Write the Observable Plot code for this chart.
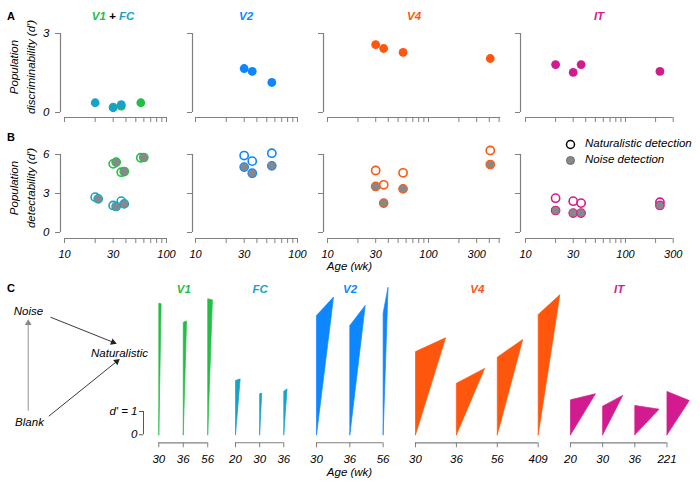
<!DOCTYPE html>
<html><head><meta charset="utf-8">
<script src="https://cdn.jsdelivr.net/npm/d3@7"></script>
<script src="https://cdn.jsdelivr.net/npm/@observablehq/plot@0.6"></script>
<style>
body{margin:0;background:#fff;}
#fig{position:relative;width:700px;height:485px;overflow:hidden;background:#fff;font-family:"Liberation Sans",Arial,Helvetica,sans-serif;color:#000;}
.abs{position:absolute;white-space:nowrap;line-height:1;}
.it{font-style:italic;font-size:11px;}
.letter{font-weight:bold;font-size:11px;}
.title{font-weight:bold;font-style:italic;font-size:11.5px;}
svg{overflow:visible;}
</style></head><body><div id="fig"></div>
<script>
// ---------------- DATA ----------------
const areas = ["V1", "FC", "V2", "V4", "IT"];
const areaColors = ["#22bf45", "#16a3c8", "#0d87ff", "#ff560d", "#d21b8e"];

const agesV1 = [30, 36, 56];
const agesFC = [20, 30, 36];
const agesV2 = [30, 36, 56];
const agesV4 = [30, 36, 56, 409];
const agesIT = [20, 30, 36, 221];

// A: population discriminability (d')
const discV1 = [0.20, 0.24, 0.37];
const discFC = [0.37, 0.18, 0.30];
const discV2 = [1.67, 1.56, 1.14];
const discV4 = [2.58, 2.43, 2.28, 2.05];
const discIT = [1.82, 1.52, 1.82, 1.56];

// B: population detectability (d')
const natV1 = [5.28, 4.64, 5.75];
const noiseV1 = [5.41, 4.69, 5.77];
const natFC = [2.72, 2.08, 2.41];
const noiseFC = [2.59, 2.00, 2.20];
const natV2 = [5.92, 5.49, 6.10];
const noiseV2 = [5.03, 4.56, 5.13];
const natV4 = [4.77, 3.67, 4.59, 6.31];
const noiseV4 = [3.54, 2.26, 3.36, 5.23];
const natIT = [2.64, 2.41, 2.26, 2.33];
const noiseIT = [1.69, 1.49, 1.49, 2.08];

// C: triangle glyphs (Blank at 0, Noise straight above, Naturalistic apex)
const cNoiseV1 = [5.65, 4.83, 5.84];
const cApexYV1 = [5.62, 4.88, 5.79];
const cApexXV1 = [0.10, 0.14, 0.20];
const cNoiseFC = [2.33, 1.76, 1.87];
const cApexYFC = [2.40, 1.79, 1.97];
const cApexXFC = [0.20, 0.09, 0.14];
const cNoiseV2 = [5.12, 4.69, 5.22];
const cApexYV2 = [5.91, 5.55, 6.33];
const cApexXV2 = [0.73, 0.66, 0.21];
const cNoiseV4 = [3.57, 2.21, 3.33, 5.16];
const cApexYV4 = [4.16, 2.85, 4.09, 6.01];
const cApexXV4 = [1.29, 1.21, 1.09, 0.93];
const cNoiseIT = [1.50, 1.23, 1.26, 1.86];
const cApexYIT = [1.76, 1.69, 1.10, 1.47];
const cApexXIT = [1.07, 0.86, 1.04, 0.96];

const xTickLabels = [10, 30, 100, 300];
const yTicksA = [0, 3];
const yTicksB = [0, 3, 6];
const scaleBarTicks = [0, 1];

// ---------------- BUILD TABLES ----------------
const raw = {
  V1: [agesV1, discV1, natV1, noiseV1, cNoiseV1, cApexYV1, cApexXV1],
  FC: [agesFC, discFC, natFC, noiseFC, cNoiseFC, cApexYFC, cApexXFC],
  V2: [agesV2, discV2, natV2, noiseV2, cNoiseV2, cApexYV2, cApexXV2],
  V4: [agesV4, discV4, natV4, noiseV4, cNoiseV4, cApexYV4, cApexXV4],
  IT: [agesIT, discIT, natIT, noiseIT, cNoiseIT, cApexYIT, cApexXIT]
};
const data = {};
areas.forEach((a, k) => {
  const [ages, disc, nat, noise, cn, cy, cx] = raw[a];
  data[a] = {
    color: areaColors[k], ages,
    rows: ages.map((age, i) => ({age, disc: disc[i], nat: nat[i], noise: noise[i], cNoise: cn[i], cApexY: cy[i], cApexX: cx[i]}))
  };
});

// ---------------- HELPERS ----------------
const FONT = '"Liberation Sans", Arial, Helvetica, sans-serif';
const GREY = "#808080";
const fig = document.getElementById("fig");
function put(el, left, top) {
  el.style.position = "absolute";
  el.style.left = left + "px";
  el.style.top = top + "px";
  fig.appendChild(el);
}
function txt(html, x, y, cls, anchor = "middle", extra = "") {
  const d = document.createElement("div");
  d.className = "abs " + cls;
  d.innerHTML = html;
  const tx = anchor === "middle" ? "-50%" : anchor === "end" ? "-100%" : "0";
  d.style.cssText += `left:${x}px;top:${y}px;transform:translate(${tx},-50%);` + extra;
  fig.appendChild(d);
  return d;
}
const plotStyle = {fontFamily: FONT, fontSize: "11px", background: "none", overflow: "visible"};

// ---------------- PANELS A & B ----------------
const colsAB = [
  {areas: ["V1", "FC"], frameLeft: 60, inset: 4, decade: 102, xMax: 100, shiftNoise: 3},
  {areas: ["V2"], frameLeft: 192, inset: 3, decade: 102, xMax: 100, shiftNoise: 0},
  {areas: ["V4"], frameLeft: 323, inset: 4, decade: 101, xMax: 520, shiftNoise: 0},
  {areas: ["IT"], frameLeft: 520, inset: 5, decade: 100, xMax: 300, shiftNoise: 0}
];

function scatter(col, ci, row) {
  const A = row === "A";
  const ml = 25, mr = 16;
  const rangeW = col.decade * Math.log10(col.xMax / 10);
  const width = ml + col.inset + rangeW + mr;
  const top = A ? 20 : 140;
  const frameBottom = A ? 117 : 238;
  const yTopPx = A ? 33 : 154;
  const mb = A ? 8 : 26;
  const height = frameBottom - top + mb;
  const insetB = A ? 5 : 6;
  const yMax = A ? 3 : 6;
  const xt = d3.range(10, 100, 10).concat(d3.range(100, col.xMax + 1, 100));
  const marks = [
    Plot.ruleX([{x: 10, y1: 0, y2: yMax}], {x: "x", y1: "y1", y2: "y2", dx: -col.inset, stroke: GREY, strokeWidth: 1.2}),
    Plot.ruleY([{y: 0, x1: 10, x2: col.xMax}], {y: "y", x1: "x1", x2: "x2", dy: insetB, stroke: GREY, strokeWidth: 1.2}),
    Plot.axisY({ticks: A ? yTicksA : yTicksB, tickFormat: d => String(d), tickSize: 5, tickPadding: 6, stroke: GREY,
      fill: ci === 0 ? "black" : "none", fontStyle: "italic", fontSize: 11.5, label: null}),
    Plot.axisX({ticks: xt, tickSize: 5, tickPadding: 6.5, stroke: GREY, fill: A ? "none" : "black",
      tickFormat: d => xTickLabels.includes(d) ? String(d) : "", fontStyle: "italic", fontSize: 11, label: null})
  ];
  for (const a of col.areas) {
    const d = data[a];
    if (A) {
      marks.push(Plot.dot(d.rows, {x: "age", y: "disc", r: 4.4, fill: d.color}));
    } else {
      marks.push(Plot.dot(d.rows, {x: "age", y: "nat", r: 4.1, fill: "white", stroke: d.color, strokeWidth: 1.6}));
      marks.push(Plot.dot(d.rows, {x: "age", y: "noise", r: 4.3, fill: "#888888", stroke: d.color, strokeWidth: 1.1, dx: col.shiftNoise}));
    }
  }
  const svg = Plot.plot({
    width, height,
    marginLeft: ml, marginRight: mr, marginTop: yTopPx - top, marginBottom: mb,
    style: plotStyle,
    x: {type: "log", domain: [10, col.xMax], insetLeft: col.inset, insetRight: 0},
    y: {domain: [0, yMax], insetBottom: insetB, insetTop: 0},
    marks
  });
  put(svg, col.frameLeft - ml, top);
}
colsAB.forEach((c, i) => { scatter(c, i, "A"); scatter(c, i, "B"); });

// ---------------- PANEL C ----------------
const pxPerD = 23.3;
const groupsC = [
  {area: "V1", start: 158.3, slot: 1.05, bar: true},
  {area: "FC", start: 235, slot: 1.036},
  {area: "V2", start: 315.7, slot: 1.43},
  {area: "V4", start: 415, slot: 1.755},
  {area: "IT", start: 570, slot: 1.38}
];
function glyphs(g) {
  const d = data[g.area];
  const n = d.ages.length;
  const xMaxD = (n - 1) * g.slot;
  const inset = g.bar ? 15.3 : 0;
  const ml = g.bar ? 50 : 8, mr = 34;
  const width = ml + inset + xMaxD * pxPerD + mr;
  const top = 280, yMaxD = 6.5, baseline = 434.3, insetB = 8, mb = 26;
  const mt = baseline - yMaxD * pxPerD - top;
  const height = baseline + insetB - top + mb;
  const tri = d.rows.flatMap((r, i) => {
    const x0 = i * g.slot;
    return [{id: i, x: x0, y: 0}, {id: i, x: x0, y: r.cNoise}, {id: i, x: x0 + r.cApexX, y: r.cApexY}, {id: i, x: x0, y: 0}];
  });
  const marks = [
    Plot.ruleY([{y: 0, x1: 0, x2: xMaxD}], {y: "y", x1: "x1", x2: "x2", dy: insetB, stroke: GREY, strokeWidth: 1.2}),
    Plot.axisX({ticks: d.ages.map((a, i) => i * g.slot), tickFormat: v => String(d.ages[Math.round(v / g.slot)]),
      tickSize: 5, tickPadding: 7.5, stroke: GREY, fill: "black", fontStyle: "italic", fontSize: 11.5, label: null}),
    Plot.line(tri, {x: "x", y: "y", z: "id", fill: d.color, stroke: d.color, strokeWidth: 0.7, strokeLinejoin: "miter", curve: "linear"})
  ];
  if (g.bar) {
    marks.push(Plot.ruleX([{x: 0, y1: 0, y2: 1}], {x: "x", y1: "y1", y2: "y2", dx: -inset, stroke: "#555", strokeWidth: 1}));
    marks.push(Plot.axisY({ticks: scaleBarTicks, tickFormat: v => v === 1 ? "d' = 1" : "0", tickSize: 4, tickPadding: 2,
      stroke: "#555", fill: "black", fontStyle: "italic", fontSize: 11.5, label: null}));
  }
  const svg = Plot.plot({
    width, height,
    marginLeft: ml, marginRight: mr, marginTop: mt, marginBottom: mb,
    style: plotStyle,
    x: {domain: [0, xMaxD], insetLeft: inset, insetRight: 0},
    y: g.bar ? {domain: [0, yMaxD], insetBottom: insetB} : {domain: [0, yMaxD], insetBottom: insetB, axis: null},
    marks
  });
  put(svg, g.start - inset - ml, top);
  const cx = g.start + xMaxD * pxPerD / 2;
  txt(`<span style="color:${d.color}">${g.area}</span>`, cx + 1, 290, "title");
}
groupsC.forEach(glyphs);

// schematic (Blank -> Noise -> Naturalistic)
const schemNodes = [
  {name: "Noise", x: 28, y: 21},
  {name: "Blank", x: 29, y: 132},
  {name: "Naturalistic", x: 119, y: 63}
];
const schemLinks = [
  {x1: 27.7, y1: 120, x2: 27.7, y2: 30, c: "#888888"},
  {x1: 50, y1: 26.7, x2: 115, y2: 52.7, c: "#222222"},
  {x1: 48.3, y1: 125.7, x2: 118.3, y2: 69.3, c: "#222222"}
];
const heads = schemLinks.map(l => {
  const dx = l.x2 - l.x1, dy = l.y2 - l.y1, len = Math.hypot(dx, dy);
  return {x: l.x2 - 2.6 * dx / len, y: l.y2 - 2.6 * dy / len, rot: Math.atan2(dx, -dy) * 180 / Math.PI, c: l.c};
});
const schem = Plot.plot({
  width: 160, height: 150, margin: 0, style: plotStyle,
  x: {type: "identity", axis: null}, y: {type: "identity", axis: null},
  color: {type: "identity"},
  marks: [
    Plot.link(schemLinks, {x1: "x1", y1: "y1", x2: "x2", y2: "y2", stroke: "c", strokeWidth: 0.9}),
    Plot.dot(heads, {x: "x", y: "y", rotate: "rot", symbol: "triangle2", r: 3.2, fill: "c", stroke: "none"}),
    Plot.text(schemNodes, {x: "x", y: "y", text: "name", fontStyle: "italic", fontSize: 11.5, fill: "black"})
  ]
});
put(schem, 0, 290);

// ---------------- TEXT ----------------
txt("A", 7, 16, "letter", "start");
txt("B", 7, 137, "letter", "start");
txt("C", 7, 288, "letter", "start");

txt(`<span style="color:${data.V1.color}">V1</span> + <span style="color:${data.FC.color}">FC</span>`, 113, 17, "title");
txt(`<span style="color:${data.V2.color}">V2</span>`, 246, 17, "title");
txt(`<span style="color:${data.V4.color}">V4</span>`, 414, 17, "title");
txt(`<span style="color:${data.IT.color}">IT</span>`, 599, 17, "title");

function ylab(lines, cx, cy) {
  const d = document.createElement("div");
  d.className = "abs it";
  d.innerHTML = lines.join("<br>");
  d.style.cssText += `left:${cx}px;top:${cy}px;text-align:center;line-height:17px;font-size:11.5px;transform:translate(-50%,-50%) rotate(-90deg);`;
  fig.appendChild(d);
}
ylab(["Population", "discriminability (d')"], 23, 67);
ylab(["Population", "detectability (d')"], 23, 188);

txt("Age (wk)", 349.5, 267, "it", "middle", "font-size:11.5px;");
txt("Age (wk)", 349.5, 473, "it", "middle", "font-size:11.5px;");

// legend
const leg = Plot.plot({
  width: 14, height: 32, margin: 0, style: plotStyle,
  x: {type: "identity", axis: null}, y: {type: "identity", axis: null},
  marks: [
    Plot.dot([{x: 7, y: 8}], {x: "x", y: "y", r: 4, fill: "white", stroke: "black", strokeWidth: 1.5}),
    Plot.dot([{x: 7, y: 24}], {x: "x", y: "y", r: 4, fill: "#888888", stroke: "#6a6a6a", strokeWidth: 1})
  ]
});
put(leg, 563, 136);
txt("Naturalistic detection", 585, 143.5, "it", "start", "font-size:11.5px;");
txt("Noise detection", 585, 159.5, "it", "start", "font-size:11.5px;");
</script></body></html>
